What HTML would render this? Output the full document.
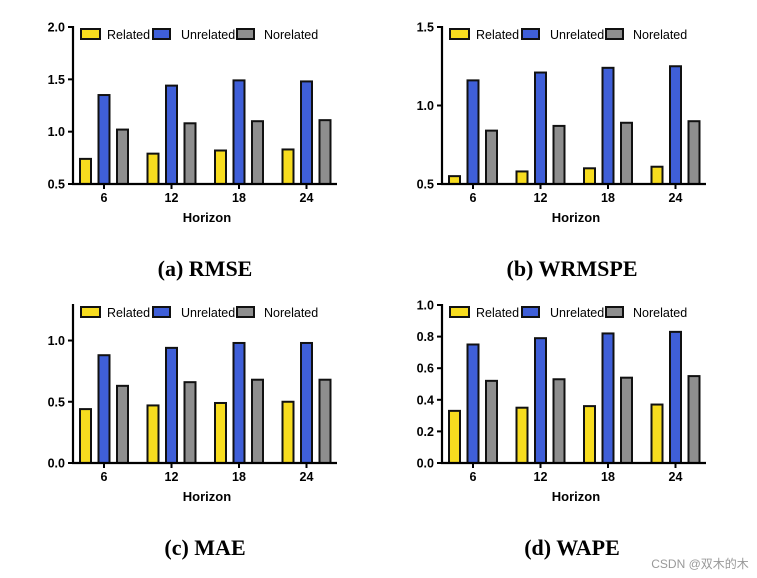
<!DOCTYPE html>
<html><head><meta charset="utf-8"><style>
html,body{margin:0;padding:0;background:#fff;}
svg{display:block;font-family:"Liberation Sans",Arial,sans-serif;}
</style></head><body>
<svg id="chart" width="757" height="578" viewBox="0 0 757 578" xmlns="http://www.w3.org/2000/svg">
<rect width="757" height="578" fill="#fff"/>
<text x="205" y="276" text-anchor="middle" font-family="Liberation Serif,serif" font-weight="bold" font-size="22">(a) RMSE</text>
<text x="572" y="276" text-anchor="middle" font-family="Liberation Serif,serif" font-weight="bold" font-size="22">(b) WRMSPE</text>
<text x="205" y="555" text-anchor="middle" font-family="Liberation Serif,serif" font-weight="bold" font-size="22">(c) MAE</text>
<text x="572" y="555" text-anchor="middle" font-family="Liberation Serif,serif" font-weight="bold" font-size="22">(d) WAPE</text>
<text x="700" y="568" text-anchor="middle" font-family="Liberation Sans,'Noto Sans CJK SC',sans-serif" font-size="12" fill="#999">CSDN @双木的木</text>
</svg>
<script>
const categories = ["6","12","18","24"];
const seriesNames = ["Related","Unrelated","Norelated"];
const rmseRelated = [0.74,0.79,0.82,0.83];
const rmseUnrelated = [1.35,1.44,1.49,1.48];
const rmseNorelated = [1.02,1.08,1.10,1.11];
const wrmspeRelated = [0.55,0.58,0.60,0.61];
const wrmspeUnrelated = [1.16,1.21,1.24,1.25];
const wrmspeNorelated = [0.84,0.87,0.89,0.90];
const maeRelated = [0.44,0.47,0.49,0.50];
const maeUnrelated = [0.88,0.94,0.98,0.98];
const maeNorelated = [0.63,0.66,0.68,0.68];
const wapeRelated = [0.33,0.35,0.36,0.37];
const wapeUnrelated = [0.75,0.79,0.82,0.83];
const wapeNorelated = [0.52,0.53,0.54,0.55];
const rmseTicks = ["0.5","1.0","1.5","2.0"];
const wrmspeTicks = ["0.5","1.0","1.5"];
const maeTicks = ["0.0","0.5","1.0"];
const wapeTicks = ["0.0","0.2","0.4","0.6","0.8","1.0"];

const colors = ["#f7dc1f","#3f5fd8","#8e8e8e"];
const NS = "http://www.w3.org/2000/svg";
const svg = document.getElementById("chart");
function mk(tag, attrs, parent){
  const e = document.createElementNS(NS, tag);
  for (const k in attrs) e.setAttribute(k, attrs[k]);
  (parent||svg).appendChild(e);
  return e;
}
function panel(id, x0, yTop, yBot, xEnd, ymin, ymax, ticks, series){
  const g = mk("g", {});
  
  
  const y = v => yBot - (v - ymin) / (ymax - ymin) * (yBot - yTop);
  const xc = i => x0 + 31 + i * 67.5;
  series.forEach((vals, s) => {
    vals.forEach((v, i) => {
      const cx = xc(i) + (s - 1) * 18.5;
      const r = mk("rect", {x: cx - 5.5, y: y(v), width: 11, height: yBot - y(v), fill: colors[s], stroke: "#111", "stroke-width": 2}, g);
      
      
    });
  });
  mk("line", {x1: x0, y1: yTop - 1, x2: x0, y2: yBot + 1, stroke: "#000", "stroke-width": 2.2}, g);
  mk("line", {x1: x0 - 1, y1: yBot, x2: xEnd, y2: yBot, stroke: "#000", "stroke-width": 2.2}, g);
  ticks.forEach(t => {
    const v = parseFloat(t);
    mk("line", {x1: x0 - 5, y1: y(v), x2: x0, y2: y(v), stroke: "#000", "stroke-width": 2}, g);
    const tx = mk("text", {x: x0 - 8, y: y(v) + 4.5, "text-anchor": "end", "font-size": 12.5, "font-weight": "bold"}, g);
    tx.textContent = t;
    
    
  });
  categories.forEach((c, i) => {
    const cx = xc(i);
    mk("line", {x1: cx, y1: yBot, x2: cx, y2: yBot + 5, stroke: "#000", "stroke-width": 2}, g);
    const tx = mk("text", {x: cx, y: yBot + 18, "text-anchor": "middle", "font-size": 12.5, "font-weight": "bold"}, g);
    tx.textContent = c;
    
    
  });
  const xt = mk("text", {x: x0 + 134, y: yBot + 38, "text-anchor": "middle", "font-size": 13, "font-weight": "bold"}, g);
  xt.textContent = "Horizon";
  
  
  const lx = [x0 + 8, x0 + 80, x0 + 164];
  const lw = [19, 17, 17];
  const tx2 = [x0 + 34, x0 + 108, x0 + 191];
  seriesNames.forEach((n, s) => {
    const le = mk("g", {}, g);
    
    
    mk("rect", {x: lx[s], y: yTop + 2, width: lw[s], height: 10, fill: colors[s], stroke: "#111", "stroke-width": 2}, le);
    const t = mk("text", {x: tx2[s], y: yTop + 12, "font-size": 12.5}, le);
    t.textContent = n;
  });
}
panel("rmse", 73, 27, 184, 337, 0.5, 2.0, rmseTicks, [rmseRelated, rmseUnrelated, rmseNorelated]);
panel("wrmspe", 442, 27, 184, 706, 0.5, 1.5, wrmspeTicks, [wrmspeRelated, wrmspeUnrelated, wrmspeNorelated]);
panel("mae", 73, 305, 463, 337, 0.0, 1.29, maeTicks, [maeRelated, maeUnrelated, maeNorelated]);
panel("wape", 442, 305, 463, 706, 0.0, 1.0, wapeTicks, [wapeRelated, wapeUnrelated, wapeNorelated]);
</script>
</body></html>
